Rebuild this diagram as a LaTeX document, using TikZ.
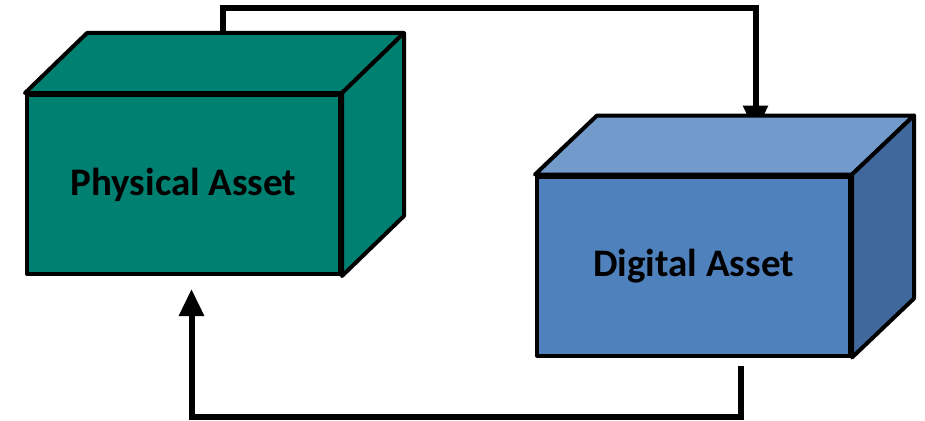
\documentclass[tikz,border=0pt]{standalone}
\usepackage{fontspec}
\setmainfont{Carlito}
\usepackage{tikz}
\usetikzlibrary{positioning, arrows.meta, backgrounds, calc}
\definecolor{phys}{RGB}{0,128,112}
\definecolor{digfront}{RGB}{79,129,189}
\definecolor{digtop}{RGB}{114,154,203}
\definecolor{digside}{RGB}{64,104,156}

\begin{document}
\begin{tikzpicture}[
  x=1pt, y=-1pt,
  face/.style={draw=black, line width=4pt, line join=round},
  front/.style={face, minimum width=313pt, minimum height=179pt, inner sep=0pt,
                font=\fontsize{39}{44}\selectfont\bfseries, text=black},
  flow/.style={-{Triangle[length=27pt, width=24pt]}, draw=black, line width=6pt}]
  \useasboundingbox (0,0) rectangle (925,420);
  % physical asset
  \node[front, fill=phys] (pa) at (183.5,184.5) {Physical Asset};
  \coordinate (pa-bl) at ($(pa.north west)+(62,-60)$);
  \coordinate (pa-br) at ($(pa.north east)+(62,-60)$);
  \coordinate (pa-bb) at ($(pa.south east)+(62,-60)$);
  \draw[face, fill=phys] (pa.north west) -- (pa-bl) -- (pa-br) -- (pa.north east) -- cycle;
  \draw[face, fill=phys] (pa.north east) -- (pa-br) -- (pa-bb) -- (pa.south east) -- cycle;
  % digital asset
  \node[front, fill=digfront] (da) at (693.5,266) {Digital Asset};
  \coordinate (da-bl) at ($(da.north west)+(62,-59)$);
  \coordinate (da-br) at ($(da.north east)+(62,-59)$);
  \coordinate (da-bb) at ($(da.south east)+(62,-59)$);
  \draw[face, fill=digtop] (da.north west) -- (da-bl) -- (da-br) -- (da.north east) -- cycle;
  \draw[face, fill=digside] (da.north east) -- (da-br) -- (da-bb) -- (da.south east) -- cycle;
  % loop
  \begin{scope}[on background layer]
    \draw[flow, line join=miter] ($(pa-bl)!0.43!(pa-br)$) -- ++(0,-25) -| ($(da-bl)!0.5!(da-br)+(0,17)$);
    \draw[flow, line join=miter] ($(da.south)+(47.5,8)$) -- ++(0,51) -| ($(pa.south)+(8,13)$);
  \end{scope}
\end{tikzpicture}
\end{document}
